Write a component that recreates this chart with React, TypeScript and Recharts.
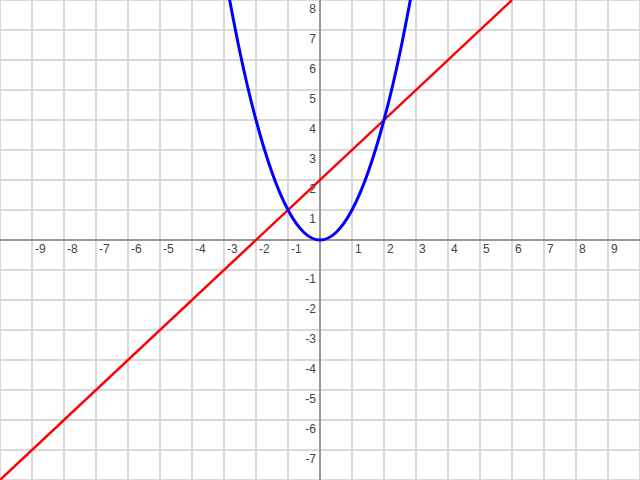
import React from 'react';
import {
  LineChart,
  Line,
  XAxis,
  YAxis,
  ReferenceLine,
  ReferenceDot,
} from 'recharts';

// grid ticks (one unit per cell)
const xTicks = [-10, -9, -8, -7, -6, -5, -4, -3, -2, -1, 0, 1, 2, 3, 4, 5, 6, 7, 8, 9, 10];
const yTicks = [-8, -7, -6, -5, -4, -3, -2, -1, 0, 1, 2, 3, 4, 5, 6, 7, 8];

// numbers written along the axes
const xLabels = [-9, -8, -7, -6, -5, -4, -3, -2, -1, 1, 2, 3, 4, 5, 6, 7, 8, 9];
const yLabels = [-7, -6, -5, -4, -3, -2, -1, 1, 2, 3, 4, 5, 6, 7, 8];

// blue curve (parabola)
const parabolaX = [-3, -2.5, -2, -1.5, -1, -0.5, 0, 0.5, 1, 1.5, 2, 2.5, 3];
const parabolaY = [9, 6.25, 4, 2.25, 1, 0.25, 0, 0.25, 1, 2.25, 4, 6.25, 9];

// red straight line
const lineX = [-10, 6];
const lineY = [-8, 8];

const parabolaData = parabolaX.map((x, i) => ({ x, y: parabolaY[i] }));
const lineData = lineX.map((x, i) => ({ x, y: lineY[i] }));

const GRID = '#d9d9d9';
const AXIS = '#999999';
const LABEL = '#444444';
const FONT = '"Liberation Sans", Arial, sans-serif';

const App: React.FC = () => {
  return (
    <div style={{ width: 640, height: 480 }}>
      <style>{`body{margin:0;}`}</style>
      <LineChart width={640} height={480} margin={{ top: 0, right: 0, bottom: 0, left: 0 }}>
        <XAxis
          type="number"
          dataKey="x"
          domain={[-10, 10]}
          ticks={xTicks}
          allowDataOverflow
          height={0}
          tick={false}
          axisLine={false}
          tickLine={false}
        />
        <YAxis
          type="number"
          dataKey="y"
          domain={[-8, 8]}
          ticks={yTicks}
          allowDataOverflow
          width={0}
          tick={false}
          axisLine={false}
          tickLine={false}
        />
        {/* unit grid */}
        {xTicks.filter((v) => v !== 0).map((v) => (
          <ReferenceLine key={`gx${v}`} x={v} stroke={GRID} strokeWidth={2} />
        ))}
        {yTicks.filter((v) => v !== 0).map((v) => (
          <ReferenceLine key={`gy${v}`} y={v} stroke={GRID} strokeWidth={2} />
        ))}
        <ReferenceLine x={0} stroke={AXIS} strokeWidth={2} />
        <ReferenceLine y={0} stroke={AXIS} strokeWidth={2} />
        {xLabels.map((v) => (
          <ReferenceDot
            key={`xl${v}`}
            x={v}
            y={0}
            r={0}
            shape={(p: any) => (
              <text x={p.cx + 3} y={p.cy + 13} fontSize={12} fontFamily={FONT} fill={LABEL} textAnchor="start">
                {v}
              </text>
            )}
          />
        ))}
        {yLabels.map((v) => (
          <ReferenceDot
            key={`yl${v}`}
            x={0}
            y={v}
            r={0}
            shape={(p: any) => (
              <text x={p.cx - 4} y={p.cy + 13} fontSize={12} fontFamily={FONT} fill={LABEL} textAnchor="end">
                {v}
              </text>
            )}
          />
        ))}
        <Line
          data={lineData}
          dataKey="y"
          type="linear"
          stroke="#ff0000"
          strokeWidth={2.5}
          dot={false}
          activeDot={false}
          isAnimationActive={false}
        />
        <Line
          data={parabolaData}
          dataKey="y"
          type="natural"
          stroke="#0000ff"
          strokeWidth={3}
          dot={false}
          activeDot={false}
          isAnimationActive={false}
        />
      </LineChart>
    </div>
  );
};

export default App;
